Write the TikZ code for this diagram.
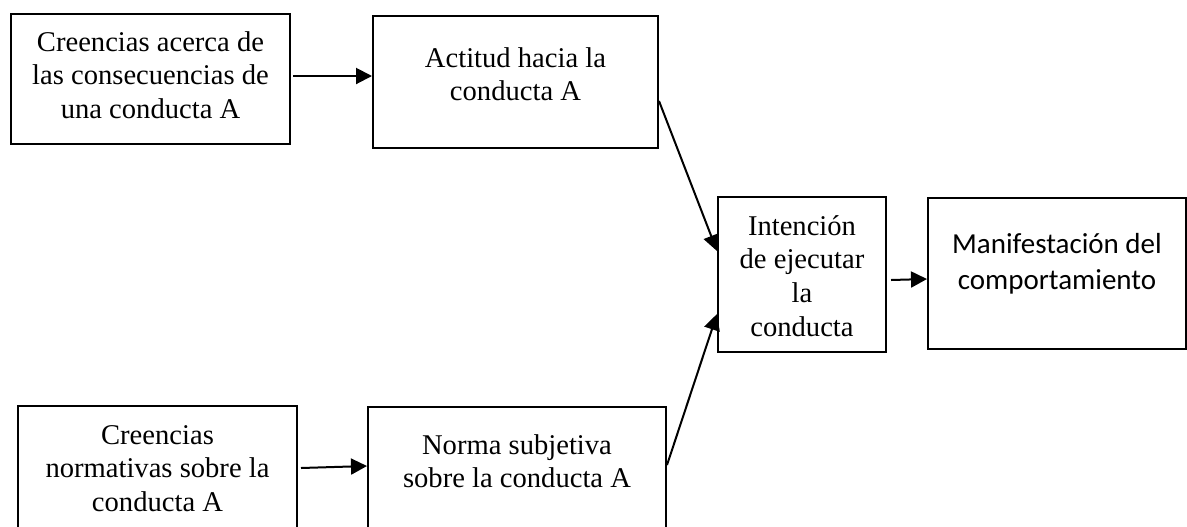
\documentclass[tikz,border=0pt]{standalone}
\usepackage{fontspec}
\setmainfont{Liberation Serif}
\newfontfamily\calibrifont{Carlito}
\usetikzlibrary{arrows.meta}
\usetikzlibrary{positioning}
\tikzstyle{box} = [rectangle, draw=black, line width=1pt, inner sep=0pt, anchor=north west]
\tikzstyle{txt} = [align=center, inner sep=0pt, font=\fontsize{14.3}{16.8}\selectfont]
\tikzstyle{sanstxt} = [align=center, inner sep=0pt, font=\calibrifont\fontsize{14.5}{18}\selectfont]
\tikzstyle{arrow} = [line width=1pt, -{Triangle[length=8pt,width=8pt]}]

\begin{document}
\begin{tikzpicture}[x=0.5pt, y=-0.5pt]
\useasboundingbox (0,0) rectangle (1187,526);
\clip (0,0) rectangle (1187,526);

\node (creencias) [box, minimum width=139.5pt, minimum height=65pt] at (10,13) {};
\node (actitud) [box, minimum width=142.5pt, minimum height=66pt] at (372,15) {};
\node (intencion) [box, minimum width=84pt, minimum height=77.5pt] at (717,196) {};
\node (manifest) [box, minimum width=129pt, minimum height=75.5pt] at (927,197) {};
\node (normativas) [box, minimum width=139.5pt, minimum height=70pt] at (17,405) {};
\node (norma) [box, minimum width=149pt, minimum height=70pt] at (367,406) {};

\node (creenciasTxt) [txt, below=9pt of creencias.north] {Creencias acerca de\\las consecuencias de\\una conducta A};
\node (actitudTxt) [txt, below=16pt of actitud.north] {Actitud hacia la\\conducta A};
\node (intencionTxt) [txt, below=9.5pt of intencion.north] {Intención\\de ejecutar\\la\\conducta};
\node (manifestTxt) [sanstxt, below=18pt of manifest.north] {Manifestación del\\comportamiento};
\node (normativasTxt) [txt, below=10pt of normativas.north] {Creencias\\normativas sobre la\\conducta A};
\node (normaTxt) [txt, below=14pt of norma.north] {Norma subjetiva\\sobre la conducta A};

\draw[arrow] ([xshift=1pt,yshift=1.5pt]creencias.east) -- ([yshift=1.5pt]creencias.east -| actitud.west);
\draw[arrow] ([yshift=-9.5pt]actitud.east) -- ([yshift=11.75pt]intencion.west);
\draw[arrow] ([xshift=2pt,yshift=-2.75pt]intencion.east) -- ([yshift=-2.75pt]manifest.west);
\draw[arrow] ([xshift=1.5pt,yshift=-31.5pt]normativas.north east) -- ([yshift=-30pt]norma.north west);
\draw[arrow] ([yshift=-29.5pt]norma.north east) -- ([yshift=-19.75pt]intencion.west);

\end{tikzpicture}
\end{document}
